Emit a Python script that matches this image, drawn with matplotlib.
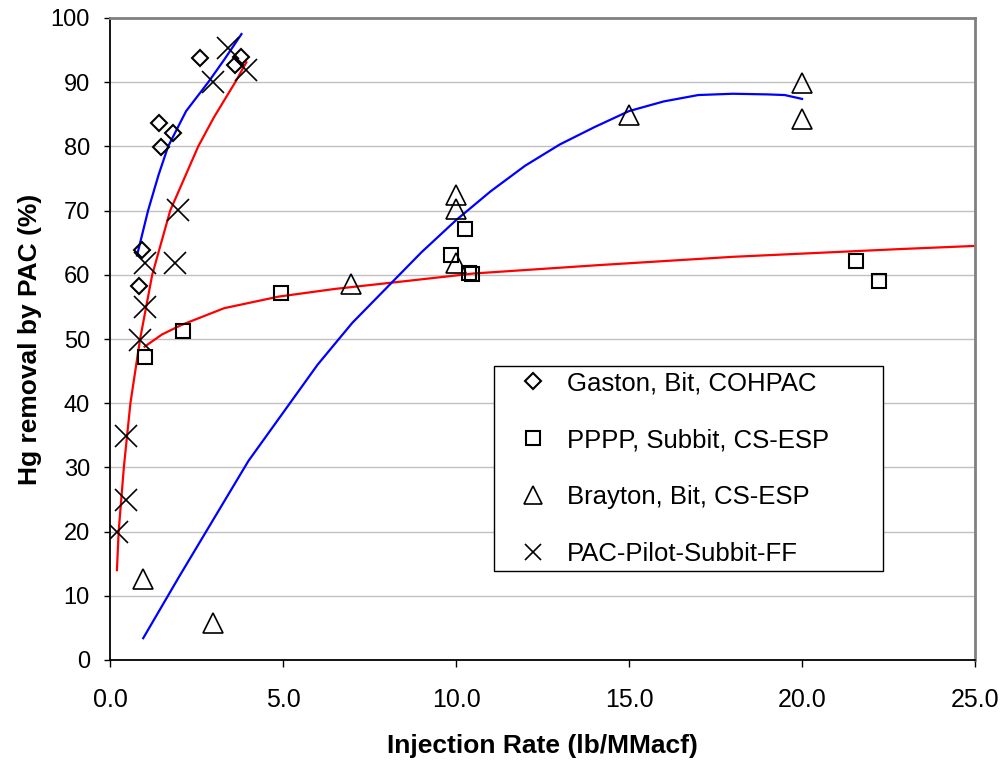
import numpy as np
import matplotlib
matplotlib.use("Agg")
import matplotlib.pyplot as plt
from matplotlib.lines import Line2D

# measured points
gaston_x = [0.84, 0.93, 1.42, 1.48, 1.83, 2.6, 3.62, 3.8]
gaston_y = [58.3, 63.9, 83.6, 79.9, 82.1, 93.8, 92.7, 93.9]

pppp_x = [1.01, 2.12, 4.93, 9.85, 10.26, 10.38, 10.45, 21.56, 22.23]
pppp_y = [47.2, 51.2, 57.2, 63.1, 67.1, 60.3, 60.1, 62.1, 59.0]

brayton_x = [0.96, 2.99, 6.96, 10.0, 10.0, 10.0, 15.0, 20.0, 20.0]
brayton_y = [12.6, 5.8, 58.6, 72.4, 70.2, 61.8, 84.9, 89.9, 84.3]

pilot_x = [0.2, 0.46, 0.46, 0.87, 1.0, 1.0, 1.88, 1.97, 2.99, 3.42, 3.94]
pilot_y = [19.9, 24.9, 34.9, 49.8, 55.0, 61.8, 61.8, 70.1, 90.0, 95.3, 91.9]

# trend lines
gaston_fit_x = [0.78, 1.1, 1.4, 1.68, 2.2, 2.84, 3.3, 3.8]
gaston_fit_y = [63.0, 70.0, 75.5, 80.0, 85.5, 90.0, 93.5, 97.5]

pilot_fit_x = [0.2, 0.25, 0.4, 0.59, 0.87, 1.22, 1.74, 2.55, 3.0, 3.62, 3.94]
pilot_fit_y = [14.0, 20.0, 30.0, 40.0, 50.0, 60.0, 70.0, 80.0, 84.5, 90.0, 93.1]

pppp_fit_x = [1.0, 1.5, 2.07, 3.3, 4.87, 6.5, 8.35, 10.5, 14.1, 18.0, 22.8, 25.0]
pppp_fit_y = [48.8, 50.7, 52.2, 54.8, 56.6, 57.8, 58.9, 60.2, 61.5, 62.8, 64.0, 64.5]

brayton_fit_x = [0.96, 2, 3, 4, 5, 6, 7, 8, 9, 10, 11, 12, 13, 14, 15, 16, 17, 18, 19, 19.5, 20]
brayton_fit_y = [3.4, 13, 22, 31, 38.5, 46, 52.5, 58, 63.5, 68.5, 73, 77, 80.3, 83, 85.5,
                 87, 88, 88.2, 88.1, 88, 87.4]

labels = ["Gaston, Bit, COHPAC", "PPPP, Subbit, CS-ESP",
          "Brayton, Bit, CS-ESP", "PAC-Pilot-Subbit-FF"]

plt.rcParams["font.family"] = ["Liberation Sans", "DejaVu Sans"]

fig = plt.figure(figsize=(10.07, 7.62), dpi=100)
ax = fig.add_axes([110 / 1007, 1 - 660 / 762, 865 / 1007, 642 / 762])

ax.plot(gaston_fit_x, gaston_fit_y, color="#0000ff", lw=1.6)
ax.plot(pilot_fit_x, pilot_fit_y, color="#ff0000", lw=1.6)
ax.plot(pppp_fit_x, pppp_fit_y, color="#ff0000", lw=1.6)
ax.plot(brayton_fit_x, brayton_fit_y, color="#0000ff", lw=1.6)

ax.plot(gaston_x, gaston_y, ls="none", marker="D", ms=8, mfc="none", mec="black", mew=1.5)
ax.plot(pppp_x, pppp_y, ls="none", marker="s", ms=10, mfc="none", mec="black", mew=1.5)
ax.plot(brayton_x, brayton_y, ls="none", marker="^", ms=14, mfc="none", mec="black", mew=1.2)
ax.plot(pilot_x, pilot_y, ls="none", marker="x", ms=16, mec="black", mew=1.2)

ax.set_xlim(0, 25)
ax.set_ylim(0, 100)
xt = np.arange(0, 25.1, 5)
ax.set_xticks(xt)
ax.set_xticklabels(["{:.1f}".format(v) for v in xt], fontsize=18)
ax.set_yticks(np.arange(0, 101, 10))
ax.tick_params(axis="y", labelsize=17, length=4.5, width=1, direction="out", pad=10)
ax.tick_params(axis="x", length=5, width=1, direction="out", pad=15)
ax.yaxis.grid(True, color="#c0c0c0", lw=1)
ax.set_axisbelow(True)

for s in ["left", "bottom"]:
    ax.spines[s].set_color("black")
    ax.spines[s].set_linewidth(1.3)
for s in ["top", "right"]:
    ax.spines[s].set_color("#808080")
    ax.spines[s].set_linewidth(2)

ax.set_xlabel("Injection Rate (lb/MMacf)", fontsize=19, fontweight="bold", labelpad=16)
ax.set_ylabel("Hg removal by PAC (%)", fontsize=19, fontweight="bold", labelpad=6)

handles = [
    Line2D([], [], ls="none", marker="D", ms=8, mfc="none", mec="black", mew=1.5),
    Line2D([], [], ls="none", marker="s", ms=10, mfc="none", mec="black", mew=1.5),
    Line2D([], [], ls="none", marker="^", ms=13, mfc="none", mec="black", mew=1.2),
    Line2D([], [], ls="none", marker="x", ms=11, mec="black", mew=1.2),
]
leg = ax.legend(handles, labels, loc="upper left", mode="expand",
                bbox_to_anchor=((494 - 110) / 865, (660 - 366) / 642,
                                (883 - 494) / 865, 0.0),
                fontsize=18.5, frameon=True, fancybox=False, edgecolor="black",
                framealpha=1, borderpad=0.2, labelspacing=1.28,
                handlelength=2.65, handletextpad=0.0, borderaxespad=0)
leg.get_frame().set_linewidth(1)

fig.savefig("out.png", dpi=100)
